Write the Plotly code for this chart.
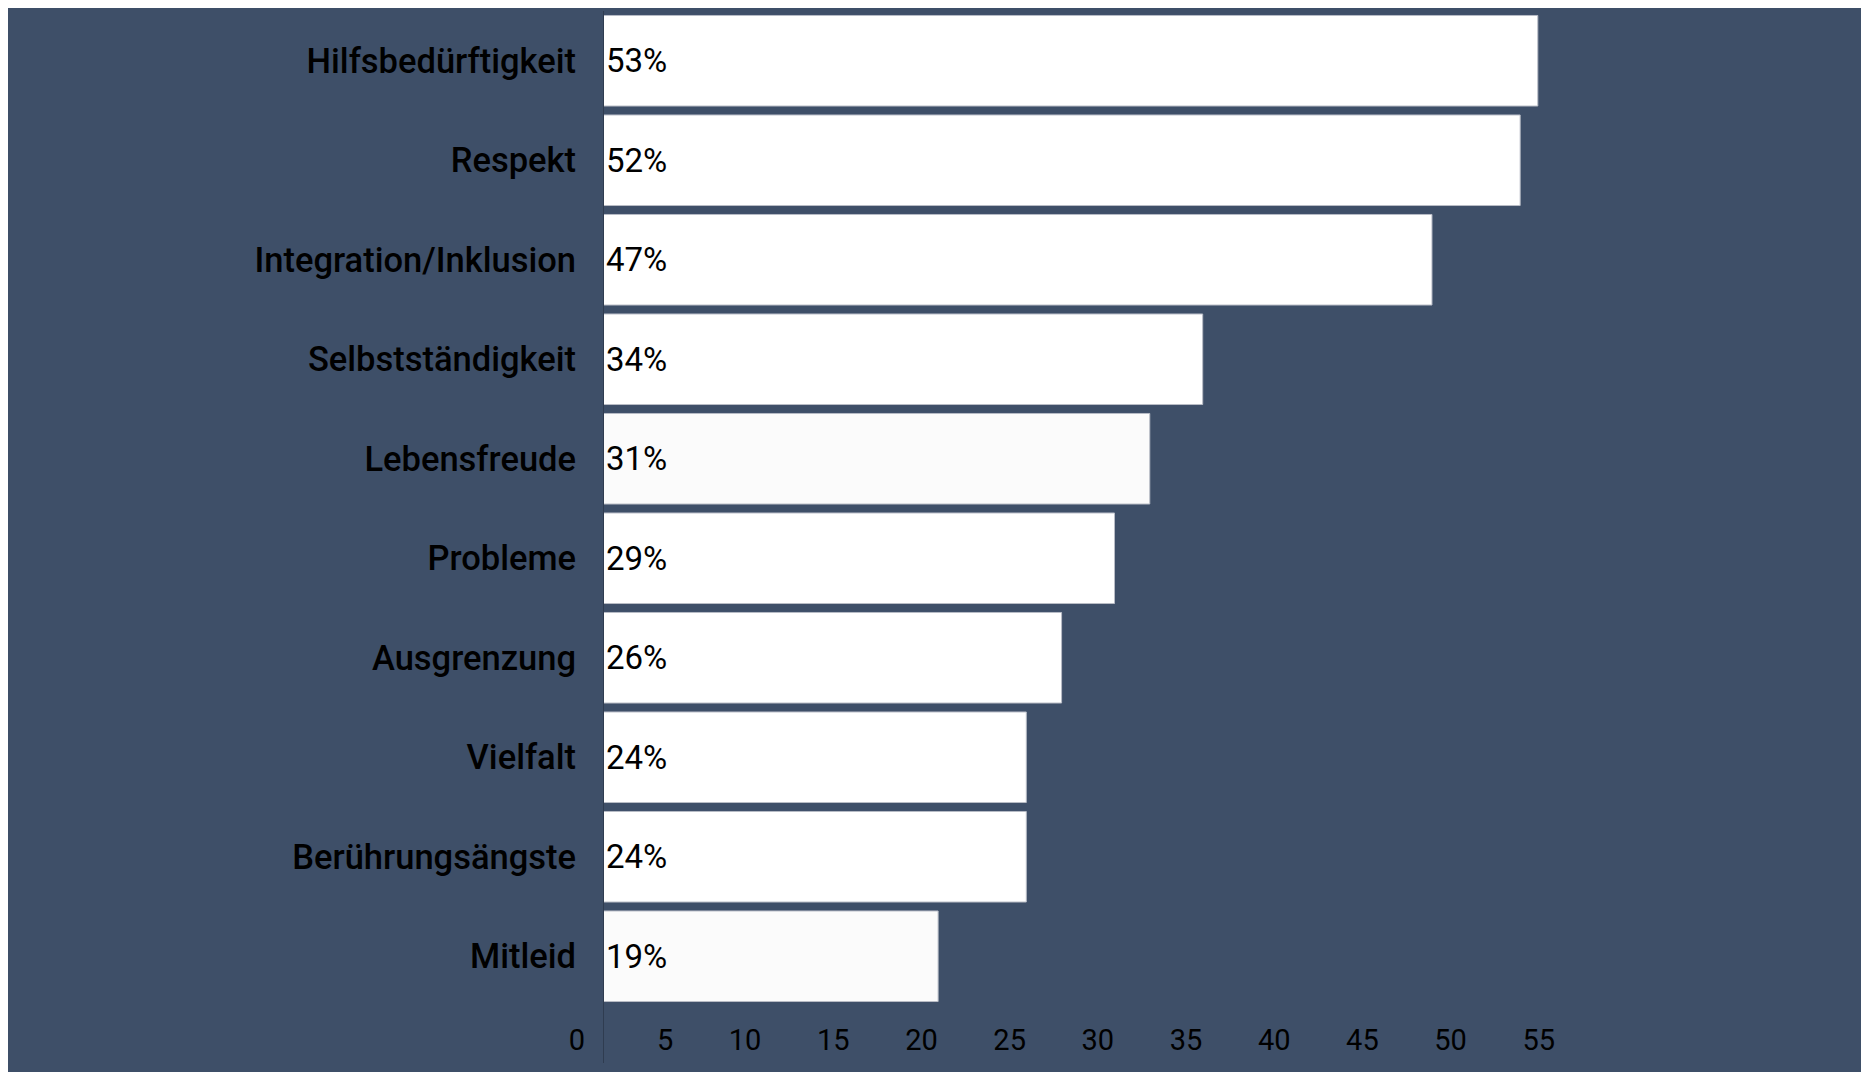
import plotly.graph_objects as go

# ---- data (top to bottom) ----
categories = [
    "Hilfsbedürftigkeit", "Respekt", "Integration/Inklusion", "Selbstständigkeit",
    "Lebensfreude", "Probleme", "Ausgrenzung", "Vielfalt", "Berührungsängste", "Mitleid",
]
values = [53, 52, 47, 34, 31, 29, 26, 24, 24, 19]
value_labels = [f"{v}%" for v in values]
x_ticks = [0, 5, 10, 15, 20, 25, 30, 35, 40, 45, 50, 55]

# ---- style ----
BG = "#3e4f68"
AXIS = "#2f3c50"
bar_colors = ["#ffffff", "#ffffff", "#ffffff", "#ffffff", "#fbfbfb",
              "#ffffff", "#ffffff", "#ffffff", "#ffffff", "#fbfbfb"]
FONT = "Roboto"

W, H = 1855, 1064
ML, MR, MT, MB = 595, 237, 3, 66
plot_h = H - MT - MB

fig = go.Figure(
    go.Bar(
        x=values,
        y=categories,
        orientation="h",
        text=value_labels,
        textposition="inside",
        insidetextanchor="start",
        textangle=0,
        textfont=dict(family=FONT, size=33, color="#000000", weight=400),
        marker=dict(color=bar_colors, line=dict(color="#b8bcc6", width=1)),
        cliponaxis=False,
    )
)

fig.update_layout(
    width=W,
    height=H,
    margin=dict(l=ML, r=MR, t=MT, b=MB, pad=0),
    paper_bgcolor=BG,
    plot_bgcolor=BG,
    bargap=0.09,
    showlegend=False,
    font=dict(family=FONT, color="#000000"),
    xaxis=dict(
        range=[0, 58],
        tickvals=x_ticks,
        ticktext=[str(t) for t in x_ticks],
        showgrid=False,
        zeroline=False,
        showline=False,
        ticks="",
        ticklabelposition="outside left",
        ticklabelshift=-18,
        ticklabelstandoff=14,
        tickfont=dict(family=FONT, size=29, color="#000000", weight=400),
    ),
    yaxis=dict(
        autorange="reversed",
        showgrid=False,
        zeroline=False,
        showline=False,
        ticks="",
        ticklabelstandoff=26,
        tickfont=dict(family=FONT, size=34.5, color="#000000", weight=500),
    ),
    shapes=[
        dict(
            type="line", xref="x", yref="paper",
            x0=0, x1=0, y0=-57 / plot_h, y1=1,
            line=dict(color=AXIS, width=2),
            layer="above",
        )
    ],
)

fig.write_html("out.html")
